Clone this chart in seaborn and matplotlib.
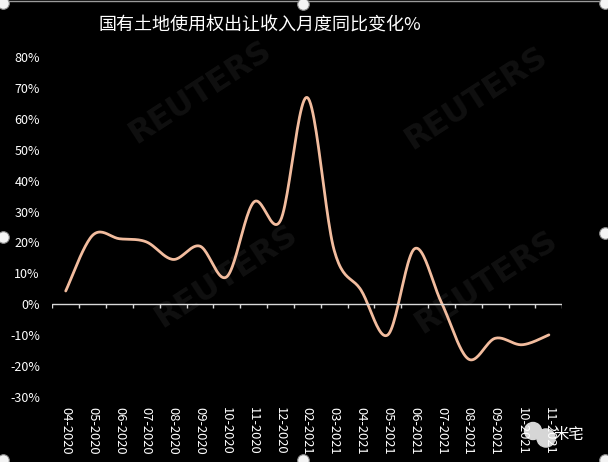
import numpy as np
import pandas as pd
import matplotlib
matplotlib.use('Agg')
import matplotlib.pyplot as plt
import seaborn as sns

# ---- data ----
months = ['04-2020', '05-2020', '06-2020', '07-2020', '08-2020', '09-2020',
          '10-2020', '11-2020', '12-2020', '02-2021', '03-2021', '04-2021',
          '05-2021', '06-2021', '07-2021', '08-2021', '09-2021', '10-2021',
          '11-2021']
yoy = [4.3, 22.3, 21.2, 20.2, 14.5, 18.8, 8.9, 33.0, 27.1, 66.9,
       17.5, 4.6, -9.9, 18.0, 0.5, -17.7, -11.0, -13.1, -9.9]
title = '国有土地使用权出让收入月度同比变化%'
yticks = list(range(-30, 81, 10))

LINE = '#F2BC9E'
WHITE = '#FFFFFF'

sns.set_theme(style='white')
plt.rcParams['font.family'] = ['Noto Sans CJK SC', 'DejaVu Sans']
plt.rcParams['axes.unicode_minus'] = False


def smooth(xv, yv, n=24):
    # Excel-style smoothed line: Catmull-Rom through every point
    x = np.asarray(xv, float)
    y = np.asarray(yv, float)
    px = np.concatenate([[x[0]], x, [x[-1]]])
    py = np.concatenate([[y[0]], y, [y[-1]]])
    t = np.linspace(0, 1, n, endpoint=False)
    xs, ys = [], []
    for i in range(1, len(x)):
        for p, out in ((px, xs), (py, ys)):
            p0, p1, p2, p3 = p[i - 1], p[i], p[i + 1], p[i + 2]
            c1 = p1 + (p2 - p0) / 6
            c2 = p2 - (p3 - p1) / 6
            out.extend((1 - t) ** 3 * p1 + 3 * (1 - t) ** 2 * t * c1
                       + 3 * (1 - t) * t ** 2 * c2 + t ** 3 * p2)
    xs.append(x[-1])
    ys.append(y[-1])
    return np.array(xs), np.array(ys)


df = pd.DataFrame({'month': months, 'yoy': yoy})
df['pos'] = np.arange(len(df))
sx, sy = smooth(df['pos'], df['yoy'])

fig = plt.figure(figsize=(6.08, 4.62), dpi=100, facecolor='black')

# decoration layer (watermarks, handles) in pixel coordinates
bg = fig.add_axes([0, 0, 1, 1], zorder=0)
bg.set_xlim(0, 608)
bg.set_ylim(462, 0)
bg.set_facecolor('black')
bg.axis('off')
for (wx, wy) in [(200, 92), (476, 98), (226, 276), (486, 282)]:
    bg.text(wx, wy, 'REUTERS', color='#101010', fontsize=23, rotation=33,
            ha='center', va='center', family='DejaVu Sans', fontweight='bold')
bg.plot([0, 608], [1, 1], color='#9a9a9a', lw=1)
bg.scatter([3, 303, 605, 3, 605, 3, 303, 605], [3, 4, 3, 237, 233, 460, 460, 460],
           s=70, color='#f4f4f4', edgecolors='#8c8c8c', linewidths=0.8, zorder=3)
# wechat-style badge + account name
bg.scatter([533, 546], [431, 438], s=[150, 170], color='#d6d6d6', zorder=3)
bg.text(569, 434, '米宅', color=WHITE, fontsize=11, ha='center', va='center',
        zorder=4)

ax = fig.add_axes([52.3 / 608, 1 - 397 / 462, 510 / 608, 340 / 462], zorder=1)
ax.patch.set_alpha(0)

sns.lineplot(x=sx, y=sy, ax=ax, color=LINE, linewidth=2.0, sort=False,
             estimator=None)

ax.axhline(0, color='#d9d9d9', lw=1.0)
ax.vlines(np.arange(-0.5, len(months)), -1.3, 0, color='#d9d9d9', lw=1.0)

ax.set_xlim(-0.5, len(months) - 0.5)
ax.set_ylim(-30, 80)
ax.set_yticks(yticks)
ax.set_yticklabels([f'{v}%' for v in yticks], color=WHITE, fontsize=9)
ax.set_xticks(df['pos'])
ax.set_xticklabels(months, rotation=-90, color=WHITE, fontsize=9.3)
ax.tick_params(axis='y', length=0, pad=9)
ax.tick_params(axis='x', length=0, pad=7)
ax.set_xlabel('')
ax.set_ylabel('')
for s in ax.spines.values():
    s.set_visible(False)

fig.text(260 / 608, 1 - 26 / 462, title, color=WHITE, fontsize=13,
         ha='center', va='center')

fig.savefig('out.png', dpi=100, facecolor='black')
